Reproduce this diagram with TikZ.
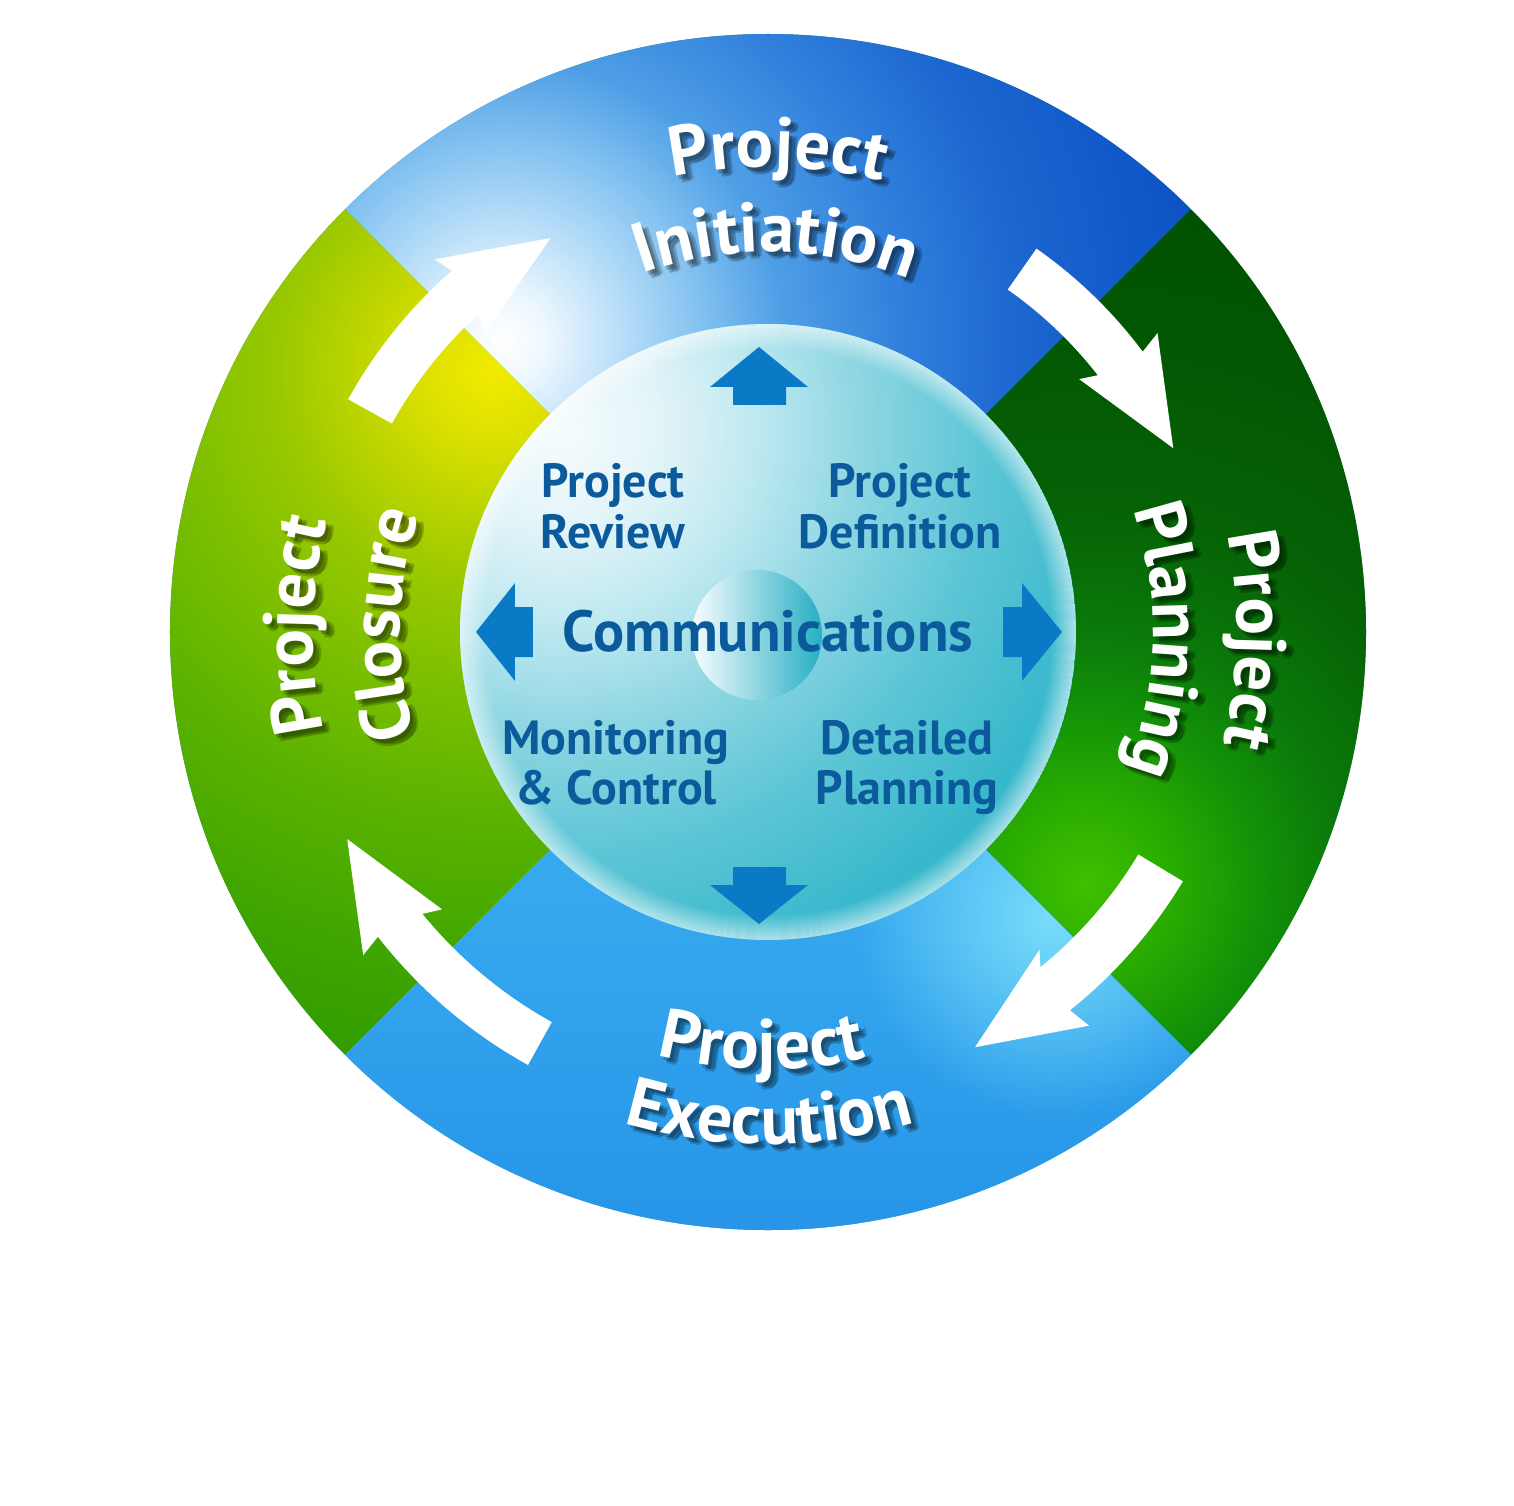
\documentclass[tikz,border=0pt]{standalone}
\usepackage{fontspec}
\setmainfont{PT Sans}
\usetikzlibrary{decorations.text,fadings}

% top quadrant
\definecolor{tq0}{HTML}{FFFFFF}\definecolor{tq1}{HTML}{F0F8FE}\definecolor{tq2}{HTML}{C4E4FA}
\definecolor{tq3}{HTML}{80C0F0}\definecolor{tq4}{HTML}{4E9EE6}\definecolor{tq5}{HTML}{3080DC}
\definecolor{tq6}{HTML}{1C66D0}\definecolor{tq7}{HTML}{0C52C4}\definecolor{tq8}{HTML}{0A4CC0}
% left quadrant
\definecolor{lq0}{HTML}{F2EA00}\definecolor{lq1}{HTML}{E0E200}\definecolor{lq2}{HTML}{C0D600}
\definecolor{lq3}{HTML}{98C800}\definecolor{lq4}{HTML}{78BE00}\definecolor{lq5}{HTML}{5AB200}
\definecolor{lq6}{HTML}{3EA400}\definecolor{lq7}{HTML}{2C9800}\definecolor{lq8}{HTML}{249000}
% right quadrant
\definecolor{rq0}{HTML}{40C000}\definecolor{rq1}{HTML}{2CAE00}\definecolor{rq2}{HTML}{129008}
\definecolor{rq3}{HTML}{0A780A}\definecolor{rq4}{HTML}{056205}\definecolor{rq5}{HTML}{035A03}
\definecolor{rq6}{HTML}{005000}\definecolor{rq7}{HTML}{004C00}
% bottom quadrant
\definecolor{bqT}{HTML}{50C4F8}\definecolor{bqM}{HTML}{34A6EE}\definecolor{bqB}{HTML}{1880E0}
\definecolor{bglow}{HTML}{7ADEFA}
% inner disc
\definecolor{iq0}{HTML}{F6FCFD}\definecolor{iq1}{HTML}{E2F4F8}\definecolor{iq2}{HTML}{BCE8F0}
\definecolor{iq3}{HTML}{8ED6E2}\definecolor{iq4}{HTML}{5EC6D6}\definecolor{iq5}{HTML}{38B8CC}
\definecolor{iq6}{HTML}{2AB2C6}
\definecolor{scL}{HTML}{F8FDFE}\definecolor{scR}{HTML}{26AEC4}
\definecolor{arrowblue}{HTML}{0A7AC6}
\definecolor{inblue}{HTML}{0B5A9C}
\definecolor{seam}{HTML}{3A8A80}

\pgfdeclareradialshading{topq}{\pgfpoint{0bp}{0bp}}{color(0bp)=(tq0); color(1.1bp)=(tq1); color(2.8bp)=(tq2); color(5.6bp)=(tq3); color(7.8bp)=(tq4); color(11.1bp)=(tq5); color(14.4bp)=(tq6); color(19.4bp)=(tq7); color(25bp)=(tq8); color(50bp)=(tq8)}
\pgfdeclareradialshading{leftq}{\pgfpoint{0bp}{0bp}}{color(0bp)=(lq0); color(1.67bp)=(lq1); color(3.6bp)=(lq2); color(6.1bp)=(lq3); color(9.2bp)=(lq4); color(12.5bp)=(lq5); color(16.7bp)=(lq6); color(20.8bp)=(lq7); color(25bp)=(lq8); color(50bp)=(lq8)}
\pgfdeclareradialshading{rightq}{\pgfpoint{0bp}{0bp}}{color(0bp)=(rq0); color(2.2bp)=(rq1); color(5bp)=(rq2); color(7.2bp)=(rq3); color(10.6bp)=(rq4); color(13.9bp)=(rq5); color(19.4bp)=(rq6); color(25bp)=(rq7); color(50bp)=(rq7)}
\pgfdeclareradialshading{innerq}{\pgfpoint{0bp}{0bp}}{color(0bp)=(iq0); color(3.57bp)=(iq1); color(7.14bp)=(iq2); color(10.7bp)=(iq3); color(15bp)=(iq4); color(20bp)=(iq5); color(25bp)=(iq6); color(50bp)=(iq6)}

\tikzfading[name=glowfade, inner color=transparent!0, outer color=transparent!100]

\newcommand\lblfont{\bfseries\fontsize{35}{40}\selectfont}

% text on an arc: #1 text, #2 start angle, #3 end angle, #4 radius
\newcommand\arclabel[4]{%
  \foreach \sx/\sy in {3/-4,6/-7,8/-5}{%
    \begin{scope}[shift={(\sx,\sy)}, opacity=0.2]
      \path[decorate, decoration={text along path, text={|\lblfont|#1}, text align=center, text color=black}]
        (#2:#4) arc[start angle=#2, end angle=#3, radius=#4];
    \end{scope}
  }%
  \path[decorate, decoration={text along path, text={|\lblfont|#1}, text align=center, text color=white}]
    (#2:#4) arc[start angle=#2, end angle=#3, radius=#4];
}

\tikzset{
  ringarrow/.style={fill=white},
  bluearrow/.style={fill=arrowblue},
  inlbl/.style={text=inblue, font=\bfseries\fontsize{24}{25}\selectfont, inner sep=0pt, anchor=base},
  commlbl/.style={text=inblue, font=\bfseries\fontsize{29}{30}\selectfont, inner sep=0pt, anchor=base}
}

\begin{document}
\begin{tikzpicture}[x=0.5pt, y=0.5pt]
\useasboundingbox (-768,-873) rectangle (746,632);
\fill[white] (-768,-873) rectangle (746,632);

% ---------- outer ring ----------
\fill[seam] (0,0) circle (598);

% top quadrant
\begin{scope}
  \clip (0,0) -- (45:598) arc[start angle=45, end angle=135, radius=598] -- cycle;
  \shade[shading=topq] (-265,292) circle (900);
\end{scope}
% left quadrant
\begin{scope}
  \clip (0,0) -- (135:598) arc[start angle=135, end angle=225, radius=598] -- cycle;
  \shade[shading=leftq] (-275,262) circle (900);
\end{scope}
% right quadrant
\begin{scope}
  \clip (0,0) -- (-45:598) arc[start angle=-45, end angle=45, radius=598] -- cycle;
  \shade[shading=rightq] (317,-253) circle (900);
\end{scope}
% bottom quadrant
\begin{scope}
  \clip (0,0) -- (-135:598) arc[start angle=-135, end angle=-45, radius=598] -- cycle;
  \fill[bqT] (-700,-700) rectangle (700,0);
  \begin{scope}[rotate=30]
    \shade[top color=bqT, bottom color=bqB, middle color=bqM] (-800,-640) rectangle (800,-60);
  \end{scope}
  \fill[bglow, path fading=glowfade] (285,-285) circle (200);
\end{scope}

% ---------- white cycle arrows ----------
\fill[ringarrow] (151:430) arc[start angle=151, end angle=132.4, radius=430]
  -- (133.4:412) -- (118.9:450) -- (131.8:500) -- (131.2:480)
  arc[start angle=131.2, end angle=151, radius=480] -- cycle;
\fill[ringarrow] (55:418) arc[start angle=55, end angle=37.9, radius=418]
  -- (39.1:401) -- (24.4:445) -- (37.5:491) -- (36.8:468)
  arc[start angle=36.8, end angle=55, radius=468] -- cycle;
\fill[ringarrow] (-31:432) arc[start angle=-31, end angle=-50.9, radius=432]
  -- (-49.5:418) -- (-63.5:464) -- (-50.8:508) -- (-51.4:484)
  arc[start angle=-51.4, end angle=-31, radius=484] -- cycle;
\fill[ringarrow] (-119:446) arc[start angle=-119, end angle=-140.8, radius=446]
  -- (-139.6:428) -- (-153.8:469) -- (-141.4:518) -- (-142:495)
  arc[start angle=-142, end angle=-119, radius=495] -- cycle;

% ---------- outer labels ----------
\arclabel{Project}{128.8}{48.8}{465}
\arclabel{Initiation}{128.8}{48.8}{380}
\arclabel{Project}{39.1}{-40.9}{469}
\arclabel{Planning}{38.8}{-41.2}{385}
\arclabel{Project}{-130.9}{-50.9}{437}
\arclabel{Execution}{-129.8}{-49.8}{512}
\arclabel{Project}{219.2}{139.2}{455}
\arclabel{Closure}{218.9}{138.9}{368}

% ---------- inner disc ----------
\begin{scope}
  \clip (0,0) circle (308);
  \shade[shading=innerq] (-208,202) circle (700);
  \foreach \i [evaluate=\i as \op using {0.55*(1-\i/12)}] in {0,...,11}{
    \draw[white, draw opacity=\op, line width=1pt] (0,0) circle ({307-2*\i});
  }
\end{scope}
\shade[left color=scL, right color=scR] (-11,-3) circle (65);

% blue arrows
\fill[bluearrow] (-9,285) -- (40,245) -- (18,245) -- (18,227) -- (-35,227) -- (-35,245) -- (-58,245) -- cycle;
\fill[bluearrow] (-9,-292) -- (40,-253) -- (18,-253) -- (18,-235) -- (-35,-235) -- (-35,-253) -- (-58,-253) -- cycle;
\fill[bluearrow] (-292,0) -- (-253,49) -- (-253,25) -- (-235,25) -- (-235,-25) -- (-253,-25) -- (-253,-49) -- cycle;
\fill[bluearrow] (294,0) -- (254,49) -- (254,25) -- (235,25) -- (235,-25) -- (254,-25) -- (254,-49) -- cycle;

% inner labels
\node[inlbl] (rev1) at (-155,134) {Project};
\node[inlbl] (rev2) at (-155,84) {Review};
\node[inlbl] (def1) at (132,134) {Project};
\node[inlbl] (def2) at (132,84) {Definition};
\node[inlbl] (mon1) at (-152,-122) {Monitoring};
\node[inlbl] (mon2) at (-152,-172) {\&~Control};
\node[inlbl] (det1) at (139,-122) {Detailed};
\node[inlbl] (det2) at (139,-172) {Planning};
\node[commlbl] (comm) at (0,-19) {Communications};
\end{tikzpicture}
\end{document}
